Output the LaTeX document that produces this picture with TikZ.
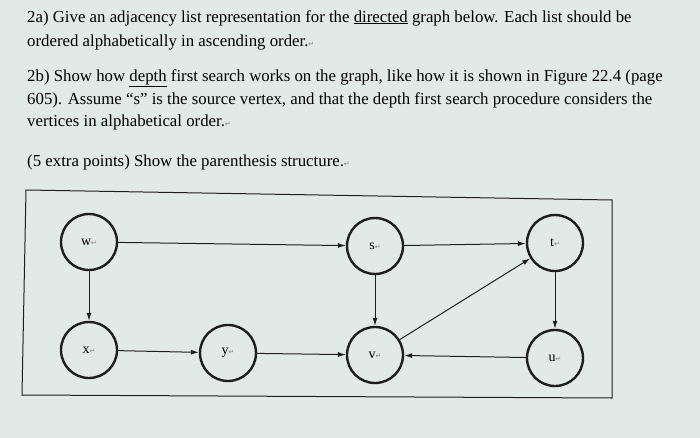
\documentclass[tikz,border=0pt]{standalone}
\usepackage{fontspec}
\setmainfont{Liberation Serif}
\newfontfamily\retfont{DejaVu Sans}
\usetikzlibrary{arrows.meta, positioning}
\definecolor{PaperBg}{RGB}{226, 234, 232}
\definecolor{InkGray}{RGB}{30, 30, 30}
\newcommand{\ret}{{\retfont\scriptsize\color{gray}↵}}
\begin{document}
\begin{tikzpicture}[x=1pt, y=-1pt,
    vertex/.style={circle, draw=InkGray, line width=2.4pt, minimum size=56pt, inner sep=0pt, font=\fontsize{14}{14}\selectfont},
    edge/.style={-{Latex[length=8pt,width=5pt]}, draw=InkGray, line width=1pt},
    para/.style={anchor=west, font=\fontsize{16.8}{16.8}\selectfont, inner sep=0pt}]
    \useasboundingbox[fill=PaperBg] (0,0) rectangle (700,438);

    % Question text
    \node[para] (l1) at (27,18) {2a) Give an adjacency list representation for the \underline{directed} graph below. Each list should be};
    \node[para] (l2) at (27,42) {ordered alphabetically in ascending order.\ret};
    \node[para] (l3) at (27,78) {2b) Show how \underline{depth} first search works on the graph, like how it is shown in Figure 22.4 (page};
    \node[para] (l4) at (27,100) {605). Assume ``s'' is the source vertex, and that the depth first search procedure considers the};
    \node[para] (l5) at (27,122) {vertices in alphabetical order.\ret};
    \node[para] (l6) at (27,162) {(5 extra points) Show the parenthesis structure.\ret};

    % Frame
    \draw[InkGray, line width=1pt] (26,190) -- (612,200) -- (612,398) -- (22,395) -- cycle;

    % Vertices
    \node[vertex] (w) at (89,242) {w\ret};
    \node[vertex] (s) at (375,246) {s\ret};
    \node[vertex] (t) at (555,243) {t\ret};
    \node[vertex] (x) at (89,350) {x\ret};
    \node[vertex] (y) at (228,353) {y\ret};
    \node[vertex] (v) at (375,355) {v\ret};
    \node[vertex] (u) at (555,358) {u\ret};

    % Edges
    \draw[edge] (w) -- (s);
    \draw[edge] (s) -- (t);
    \draw[edge] (w) -- (x);
    \draw[edge] (s) -- (v);
    \draw[edge] (t) -- (u);
    \draw[edge] (x) -- (y);
    \draw[edge] (y) -- (v);
    \draw[edge] (u) -- (v);
    \draw[edge] (v) -- (t);
\end{tikzpicture}
\end{document}
